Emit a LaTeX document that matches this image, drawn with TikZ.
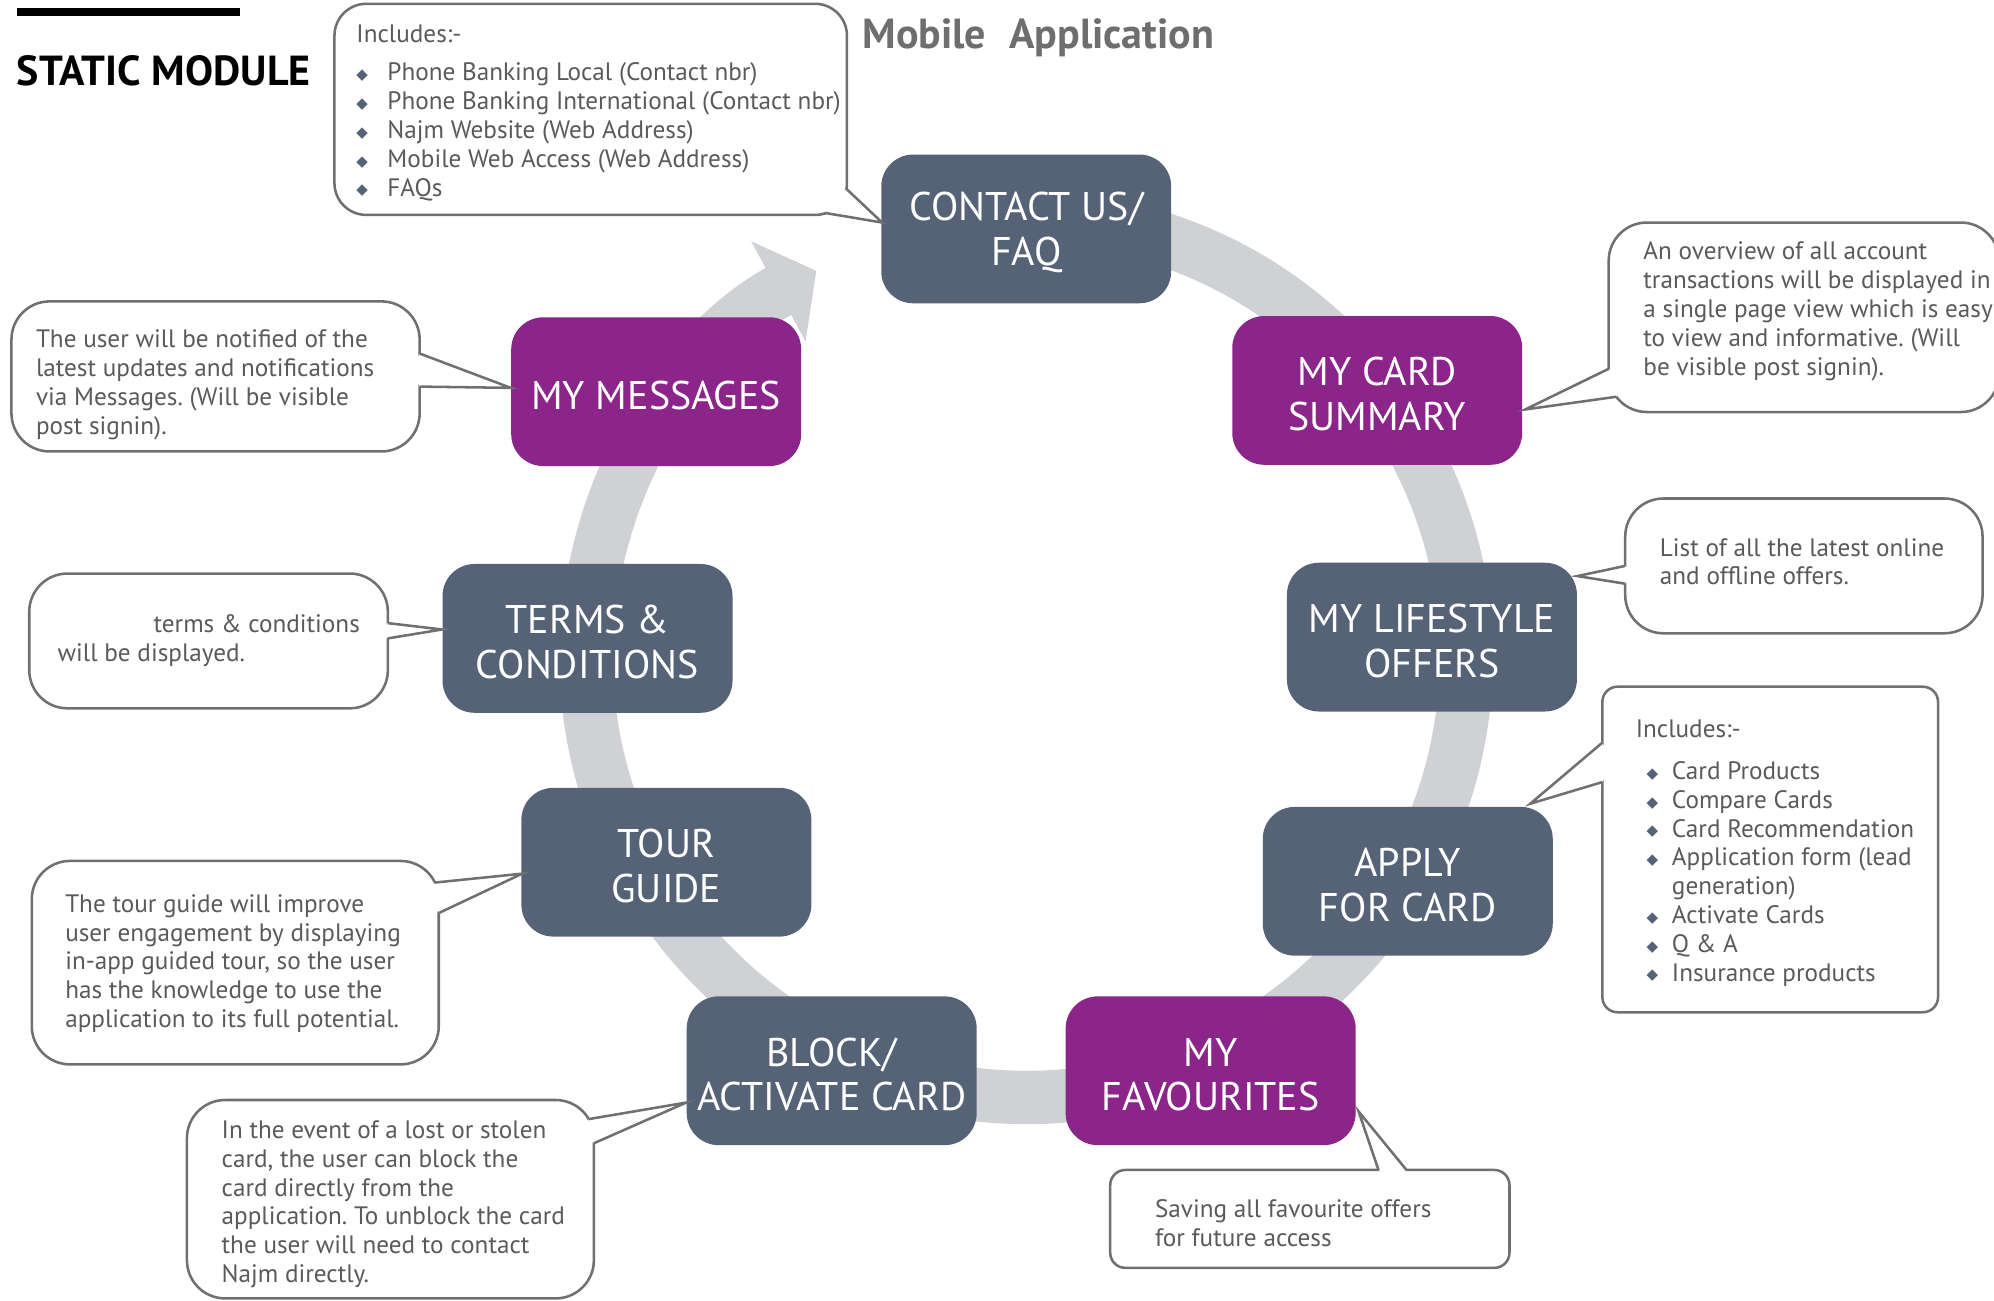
\documentclass[tikz,border=0pt]{standalone}
\usepackage{fontspec}
\setmainfont{PT Sans}
\newfontfamily\dejavu{DejaVu Sans}
\usetikzlibrary{arrows.meta,calc,fit}
\frenchspacing
\definecolor{slate}{HTML}{566377}
\definecolor{plum}{HTML}{8B2589}
\definecolor{ringgray}{HTML}{D0D1D5}
\definecolor{linegray}{HTML}{707070}
\definecolor{txtgray}{HTML}{5A5A5A}
\definecolor{titlegray}{HTML}{6E6E6E}
\def\U{0.6359pt}
\newcommand\bulglyph{{\color{slate}\dejavu\fontsize{7.5pt}{7.5pt}\selectfont ◆}}
\newcommand\bul[2]{\hspace*{#1}\makebox[#2][l]{\raisebox{0.6pt}{\bulglyph}}}
\newcommand\pointer[4]{\fill[white] #1 -- #2 -- #3 -- #4 -- cycle; \draw[ptrline] #1 -- #2 -- #3;}
\begin{document}
\frenchspacing
\begin{tikzpicture}[x=\U, y=-\U,
  card/.style={rounded corners=16pt, minimum width=145pt, minimum height=74.4pt, inner sep=0pt},
  lbl/.style={text=white, align=center, font=\fontsize{20pt}{22.3pt}\selectfont, inner sep=0pt, yshift=-1.9pt},
  slatebox/.style={card, fill=slate},
  plumbox/.style={card, fill=plum},
  callbox/.style={draw=linegray, line width=1.27pt, fill=white, rounded corners=#1, inner sep=0pt, outer sep=0pt},
  ptrline/.style={draw=linegray, line width=1.27pt, line join=miter},
  ctext/.style={anchor=north west, inner sep=0pt, align=left, text=txtgray, font=\fontsize{12.6pt}{14.4pt}\selectfont},
  ringline/.style={draw=ringgray, line width=26.7pt, -{Triangle[length=21.6pt, width=56pt]}}
]
\useasboundingbox (0,0) rectangle (1568,1023);

% titles
\node[fill=black, minimum width=111.3pt, minimum height=3.8pt, inner sep=0pt, anchor=north west] (bar) at (13,6) {};
\node[anchor=base west, inner sep=0pt, font=\bfseries\fontsize{21pt}{21pt}\selectfont] (title) at (13,67) {STATIC MODULE};
\node[anchor=base west, inner sep=0pt, text=titlegray, font=\bfseries\fontsize{21pt}{21pt}\selectfont] (apptitle) at (678,38) {Mobile\hspace{0.55em}Application};

% ring
\coordinate (ringc) at (807,517);
\draw[ringline] (ringc) ++(275:346) arc[start angle=275, end angle=601.5, radius=346];

% module boxes
\node[slatebox, label={[lbl]center:{CONTACT US/\\FAQ}}] (contact) at (807,180) {};
\node[plumbox, label={[lbl]center:{MY CARD\\SUMMARY}}] (cardsum) at (1083,307) {};
\node[slatebox, label={[lbl]center:{MY LIFESTYLE\\OFFERS}}] (lifestyle) at (1126,501) {};
\node[slatebox, label={[lbl]center:{APPLY\\FOR CARD}}] (apply) at (1107,693) {};
\node[plumbox, label={[lbl]center:{MY\\FAVOURITES}}] (fav) at (952,842) {};
\node[slatebox, label={[lbl]center:{BLOCK/\\ACTIVATE CARD}}] (block) at (654,842) {};
\node[slatebox, label={[lbl]center:{TOUR\\GUIDE}}] (tour) at (524,678) {};
\node[slatebox, label={[lbl]center:{TERMS \&\\CONDITIONS}}] (terms) at (462,502) {};
\node[plumbox, label={[lbl]center:{MY MESSAGES}}] (msgs) at (516,308) {};

% callout: contact
\node[callbox=15.9pt, fit={(263,3) (666,169)}] (cbContact) {};
\pointer{(665,148)}{($(contact.west)+(1,-5)$)}{(649,167.5)}{(655,155)}
\node[ctext] (tContact) at (280,19) {Includes:-\\[5pt]
\bul{0pt}{15.5pt}Phone Banking Local (Contact nbr)\\
\bul{0pt}{15.5pt}Phone Banking International (Contact nbr)\\
\bul{0pt}{15.5pt}Najm Website (Web Address)\\
\bul{0pt}{15.5pt}Mobile Web Access (Web Address)\\
\bul{0pt}{15.5pt}FAQs};

% callout: card summary
\node[callbox=19.1pt, fit={(1265,175) (1572,324)}] (cbCard) {};
\pointer{(1265,290)}{($(cardsum.east)+(2,15)$)}{(1271,312)}{(1276,300)}
\node[ctext] (tCard) at (1292,190) {An overview of all account\\
transactions will be displayed in\\
a single page view which is easy\\
to view and informative. (Will\\
be visible post signin).};

% callout: lifestyle
\node[callbox=19.1pt, fit={(1278,392) (1559,498)}] (cbLife) {};
\pointer{(1278,445)}{($(lifestyle.east)+(0,-48)$)}{(1278,459)}{(1285,452)}
\node[ctext] (tLife) at (1305,423) {List of all the latest online\\
and offline offers.};

% callout: apply
\node[callbox=7.6pt, fit={(1260,540) (1524,796)}] (cbApply) {};
\pointer{(1260,584)}{($(apply.east)+(-18,-61)$)}{(1260,615)}{(1267,600)}
\node[ctext] (tApply) at (1286,566) {Includes:-\\[6.4pt]
\bul{5.4pt}{12.7pt}Card Products\\
\bul{5.4pt}{12.7pt}Compare Cards\\
\bul{5.4pt}{12.7pt}Card Recommendation\\
\bul{5.4pt}{12.7pt}Application form (lead\\
\hspace*{18.1pt}generation)\\
\bul{5.4pt}{12.7pt}Activate Cards\\
\bul{5.4pt}{12.7pt}Q \& A\\
\bul{5.4pt}{12.7pt}Insurance products};

% callout: favourites
\node[callbox=7.6pt, fit={(873,920) (1187,997)}] (cbFav) {};
\pointer{(1084,920)}{($(fav.east)+(2,32)$)}{(1106,920)}{(1095,927)}
\node[ctext] (tFav) at (908,943) {Saving all favourite offers\\
for future access};

% callout: block
\node[callbox=19.1pt, fit={(147,865) (467,1021)}] (cbBlock) {};
\pointer{(463,880)}{($(block.west)+(0,25)$)}{(467,899)}{(458,892)}
\node[ctext] (tBlock) at (174,881) {In the event of a lost or stolen\\
card, the user can block the\\
card directly from the\\
application. To unblock the card\\
the user will need to contact\\
Najm directly.};

% callout: tour
\node[callbox=19.1pt, fit={(25,677) (345,837)}] (cbTour) {};
\pointer{(342,694)}{($(tour.west)+(1,9)$)}{(345,718)}{(337,706)}
\node[ctext] (tTour) at (51,703) {The tour guide will improve\\
user engagement by displaying\\
in-app guided tour, so the user\\
has the knowledge to use the\\
application to its full potential.};

% callout: terms
\node[callbox=19.1pt, fit={(23,451) (305,557)}] (cbTerms) {};
\pointer{(305,490)}{($(terms.west)+(0,-7)$)}{(305,502)}{(298,496)}
\node[ctext] (tTerms) at (45,483) {\hspace*{48pt}terms \& conditions\\
will be displayed.};

% callout: messages
\node[callbox=19.1pt, fit={(9,237) (330,355)}] (cbMsgs) {};
\pointer{(330,278)}{($(msgs.west)+(0,-3)$)}{(330,304)}{(323,291)}
\node[ctext] (tMsgs) at (28,259) {The user will be notified of the\\
latest updates and notifications\\
via Messages. (Will be visible\\
post signin).};
\end{tikzpicture}
\end{document}
